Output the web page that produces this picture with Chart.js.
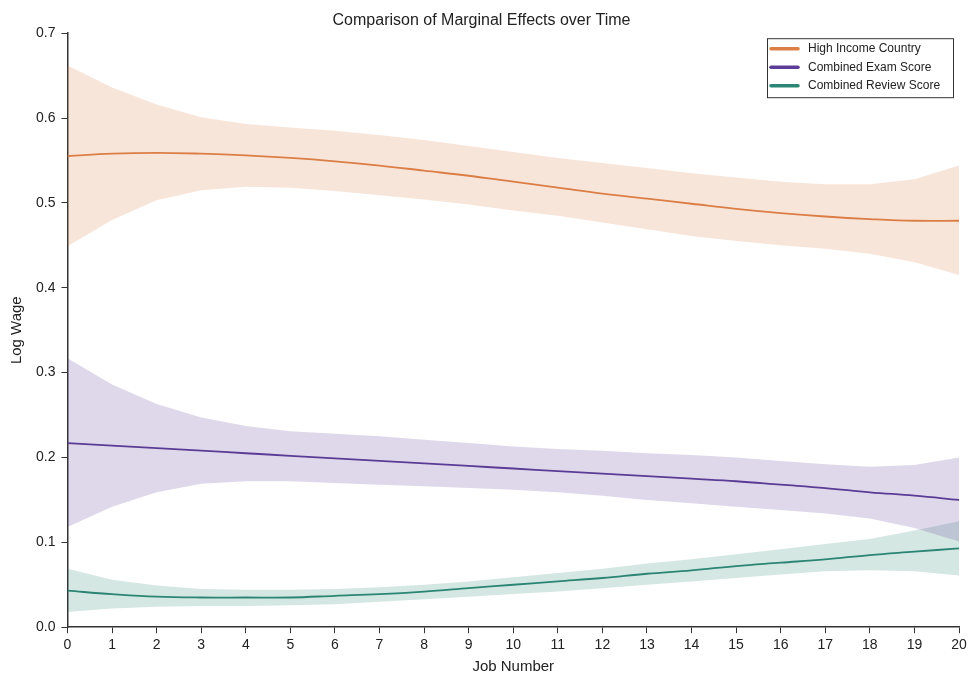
<!DOCTYPE html>
<html>
<head>
  <meta charset="utf-8">
  <title>Comparison of Marginal Effects over Time</title>
  <script src="https://cdn.jsdelivr.net/npm/chart.js"></script>
  <style>
    body { margin: 0; padding: 0; background: #ffffff; }
    #wrap { width: 971px; height: 678px; }
  </style>
</head>
<body>
  <div id="wrap"><canvas id="myChart" width="971" height="678"></canvas></div>

  <script>
    // Job number 0..20
    const jobs = [0, 1, 2, 3, 4, 5, 6, 7, 8, 9, 10, 11, 12, 13, 14, 15, 16, 17, 18, 19, 20];
    const yTicks = [0.0, 0.1, 0.2, 0.3, 0.4, 0.5, 0.6, 0.7];

    // High Income Country
    const incomeMid = [0.555, 0.558, 0.559, 0.558, 0.556, 0.553, 0.549, 0.544, 0.538, 0.532, 0.525, 0.518, 0.511, 0.505, 0.499, 0.493, 0.488, 0.484, 0.481, 0.479, 0.479];
    const incomeHi  = [0.662, 0.636, 0.616, 0.601, 0.593, 0.589, 0.585, 0.580, 0.574, 0.567, 0.560, 0.553, 0.547, 0.541, 0.535, 0.530, 0.525, 0.522, 0.522, 0.528, 0.544];
    const incomeLo  = [0.449, 0.480, 0.503, 0.515, 0.519, 0.518, 0.514, 0.509, 0.504, 0.498, 0.491, 0.485, 0.477, 0.469, 0.461, 0.455, 0.450, 0.446, 0.440, 0.430, 0.415];

    // Combined Exam Score
    const examMid = [0.217, 0.214, 0.211, 0.208, 0.205, 0.202, 0.199, 0.196, 0.193, 0.190, 0.187, 0.184, 0.181, 0.178, 0.175, 0.172, 0.168, 0.164, 0.159, 0.155, 0.150];
    const examHi  = [0.317, 0.286, 0.263, 0.247, 0.237, 0.231, 0.228, 0.225, 0.221, 0.217, 0.213, 0.210, 0.208, 0.205, 0.203, 0.200, 0.196, 0.192, 0.189, 0.191, 0.200];
    const examLo  = [0.118, 0.142, 0.159, 0.169, 0.172, 0.172, 0.170, 0.168, 0.166, 0.164, 0.162, 0.159, 0.155, 0.150, 0.146, 0.142, 0.138, 0.134, 0.128, 0.117, 0.101];

    // Combined Review Score
    const reviewMid = [0.043, 0.039, 0.036, 0.035, 0.035, 0.035, 0.037, 0.039, 0.042, 0.046, 0.050, 0.054, 0.058, 0.063, 0.067, 0.072, 0.076, 0.080, 0.085, 0.089, 0.093];
    const reviewHi  = [0.069, 0.056, 0.049, 0.045, 0.044, 0.044, 0.045, 0.047, 0.050, 0.054, 0.059, 0.064, 0.069, 0.075, 0.080, 0.086, 0.092, 0.098, 0.104, 0.114, 0.125];
    const reviewLo  = [0.018, 0.022, 0.024, 0.025, 0.025, 0.026, 0.027, 0.030, 0.033, 0.036, 0.039, 0.042, 0.046, 0.050, 0.054, 0.058, 0.062, 0.066, 0.067, 0.066, 0.061];

    const series = [
      { label: 'High Income Country',   color: '#db7f45', fill: 'rgba(219, 127, 69, 0.2)',  mid: incomeMid, hi: incomeHi, lo: incomeLo },
      { label: 'Combined Exam Score',   color: '#5b3c96', fill: 'rgba(91, 60, 150, 0.2)',   mid: examMid,   hi: examHi,   lo: examLo },
      { label: 'Combined Review Score', color: '#2b8574', fill: 'rgba(43, 133, 116, 0.2)',  mid: reviewMid, hi: reviewHi, lo: reviewLo }
    ];

    const pts = arr => arr.map((v, i) => ({ x: jobs[i], y: v }));

    const datasets = [];
    series.forEach(s => {
      datasets.push({ label: s.label + ' upper', data: pts(s.hi), borderWidth: 0, pointRadius: 0,
        backgroundColor: s.fill, fill: '+1', tension: 0 });
      datasets.push({ label: s.label + ' lower', data: pts(s.lo), borderWidth: 0, pointRadius: 0,
        backgroundColor: s.fill, fill: false, tension: 0 });
    });
    series.forEach(s => {
      datasets.push({ label: s.label, data: pts(s.mid), borderColor: s.color, borderWidth: 1.8,
        pointRadius: 0, fill: false, tension: 0.4, legendColor: s.color });
    });

    // legend box in the top right corner of the plot
    const boxLegend = {
      id: 'boxLegend',
      afterDraw(chart) {
        const c = chart.ctx;
        const area = chart.chartArea;
        const items = chart.data.datasets.filter(d => d.legendColor);
        const w = 186, h = 59;
        const x0 = area.right - w - 6, y0 = area.top + 5;
        c.save();
        c.fillStyle = '#ffffff';
        c.fillRect(x0, y0, w, h);
        c.strokeStyle = '#333333';
        c.lineWidth = 1;
        c.strokeRect(x0 + 0.5, y0 + 0.5, w, h);
        c.font = '12px "Liberation Sans", Arial, sans-serif';
        c.textBaseline = 'middle';
        items.forEach((d, i) => {
          const y = y0 + 10.5 + i * 18.5;
          c.strokeStyle = d.legendColor;
          c.lineWidth = 3.5;
          c.lineCap = 'round';
          c.beginPath();
          c.moveTo(x0 + 4, y);
          c.lineTo(x0 + 31, y);
          c.stroke();
          c.fillStyle = '#222222';
          c.fillText(d.label, x0 + 41, y);
        });
        c.restore();
      }
    };

    const ctx = document.getElementById('myChart').getContext('2d');
    new Chart(ctx, {
      type: 'line',
      data: { datasets: datasets },
      plugins: [boxLegend],
      options: {
        responsive: false,
        animation: false,
        layout: { padding: { left: 4, right: 12, top: 0, bottom: -2 } },
        scales: {
          x: {
            type: 'linear',
            min: 0,
            max: 20,
            title: { display: true, text: 'Job Number', color: '#222',
              font: { family: '"Liberation Sans", Arial, sans-serif', size: 15 }, padding: { top: 0 } },
            grid: { drawOnChartArea: false, drawTicks: true, tickLength: 6, color: '#333' },
            border: { color: '#333', width: 1.5 },
            ticks: { stepSize: 1, color: '#222', padding: 4,
              font: { family: '"Liberation Sans", Arial, sans-serif', size: 14 } }
          },
          y: {
            min: 0,
            max: 0.7,
            afterBuildTicks: axis => { axis.ticks = yTicks.map(v => ({ value: v })); },
            title: { display: true, text: 'Log Wage', color: '#222',
              font: { family: '"Liberation Sans", Arial, sans-serif', size: 15 }, padding: { bottom: 4 } },
            grid: { drawOnChartArea: false, drawTicks: true, tickLength: 6, color: '#333' },
            border: { color: '#333', width: 1.5 },
            ticks: { color: '#222', padding: 6, callback: v => v.toFixed(1),
              font: { family: '"Liberation Sans", Arial, sans-serif', size: 14 } }
          }
        },
        plugins: {
          legend: { display: false },
          tooltip: { enabled: false },
          title: {
            display: true,
            text: 'Comparison of Marginal Effects over Time',
            color: '#222',
            font: { family: '"Liberation Sans", Arial, sans-serif', size: 16, weight: 'normal' },
            padding: { top: 11, bottom: 3 }
          }
        }
      }
    });
  </script>
</body>
</html>
